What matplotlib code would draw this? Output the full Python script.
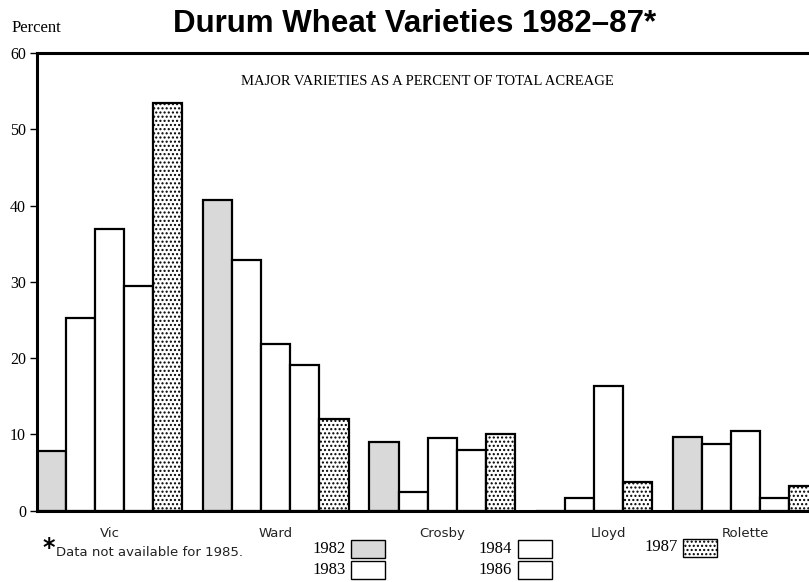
import numpy as np
import matplotlib
matplotlib.use("Agg")
from matplotlib import pyplot as plt
from matplotlib.patches import Rectangle

# data (percent of total durum acreage)
varieties = ["Vic", "Ward", "Crosby", "Lloyd", "Rolette"]
years = ["1982", "1983", "1984", "1986", "1987"]
vic = [7.8, 25.2, 36.9, 29.4, 53.4]
ward = [40.7, 32.8, 21.9, 19.1, 12.0]
crosby = [9.0, 2.4, 9.5, 8.0, 10.0]
lloyd = [None, 0.0, 1.7, 16.4, 3.8]
rolette = [9.6, 8.7, 10.5, 1.6, 3.3]
groups = [vic, ward, crosby, lloyd, rolette]

yticks = [0, 10, 20, 30, 40, 50, 60]

fills = {"1982": "#d9d9d9", "1983": "white", "1984": "white", "1986": "white", "1987": "white"}
hatches = {"1987": "...."}

plt.rcParams["hatch.linewidth"] = 1.0
plt.rcParams["hatch.color"] = "black"

W, H = 809, 582
def fx(px):
    return px / W
def fy(py):
    return 1 - py / H

fig = plt.figure(figsize=(W / 100, H / 100), dpi=100)
ax = fig.add_axes([fx(37), fy(510.7), 1 - fx(37) + 0.002, fy(53) - fy(510.7)])

gap = 0.72
pos = 0.0
centers = []
for vals in groups:
    xs = []
    for yr, v in zip(years, vals):
        if v is None:
            continue
        ax.bar(pos, v, width=1.0, align="edge", color=fills[yr],
               hatch=hatches.get(yr), edgecolor="black", linewidth=1.6, zorder=2)
        if v > 0:
            xs.append(pos + 0.5)
        pos += 1.0
    centers.append(np.mean(xs))
    pos += gap

ax.set_xlim(0, (W - 37) / 29.0)
ax.set_ylim(0, 60)

ax.set_yticks(yticks)
ax.set_yticklabels([str(t) for t in yticks], family="Liberation Serif", fontsize=11.5)
ax.tick_params(axis="y", direction="out", length=5, width=1, pad=3)

ax.set_xticks(centers)
ax.set_xticklabels(varieties, family="DejaVu Sans", fontsize=9.5, color="#222222")
ax.tick_params(axis="x", length=0, pad=12)

for s in ["left", "top", "bottom"]:
    ax.spines[s].set_linewidth(2.2)
ax.spines["right"].set_visible(False)

# titles
fig.text(fx(415), fy(24), "Durum Wheat Varieties 1982\u201387*", ha="center", va="center",
         family="Liberation Sans", fontweight="bold", fontsize=22.5)
fig.text(fx(12), fy(28), "Percent", ha="left", va="center", family="Liberation Serif", fontsize=12)
fig.text(fx(427), fy(82), "MAJOR VARIETIES AS A PERCENT OF TOTAL ACREAGE",
         ha="center", va="center", family="Liberation Serif", fontsize=10.5)

# footnote
fig.text(fx(42), fy(548), "*", ha="left", va="center", family="DejaVu Sans", fontweight="bold", fontsize=17)
fig.text(fx(56), fy(553), "Data not available for 1985.", ha="left", va="center",
         family="DejaVu Sans", fontsize=9.5, color="#222222")

# legend boxes
legend_spots = {
    "1982": (346, 549, 351, 540),
    "1983": (346, 570, 351, 561),
    "1984": (512, 549, 518, 540),
    "1986": (512, 570, 518, 561),
    "1987": (678, 547, 683, 539),
}
for yr in years:
    tx, ty, bx, by = legend_spots[yr]
    fig.text(fx(tx), fy(ty), yr, ha="right", va="center", family="Liberation Serif", fontsize=12)
    r = Rectangle((fx(bx), fy(by + 18)), 34 / W, 18 / H, transform=fig.transFigure,
                  facecolor=fills[yr], hatch=hatches.get(yr), edgecolor="black", linewidth=1.0)
    fig.add_artist(r)

fig.savefig("out.png", dpi=100)
